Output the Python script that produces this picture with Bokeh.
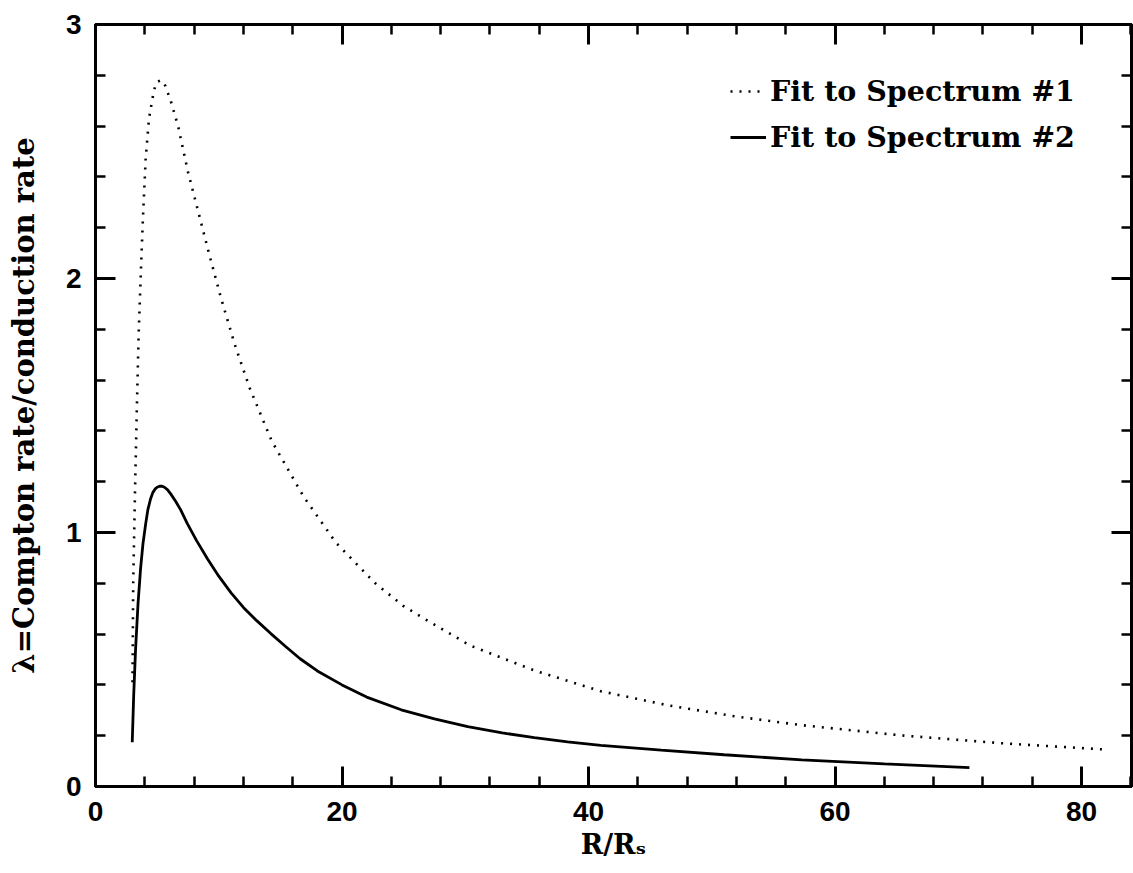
from bokeh.plotting import figure
from bokeh.models import (LinearAxis, FixedTicker, Legend, LegendItem,
                          CustomJSTickFormatter)
from bokeh.embed import file_html
from bokeh.resources import INLINE

# ---- data ----
r_fit1 = [3.0, 3.06, 3.2, 3.35, 3.5, 3.7, 3.85, 4.07, 4.34, 4.74, 4.96, 5.28,
          5.55, 6.1, 6.7, 7.5, 8.3, 9.2, 10.2, 11.3, 12.5, 14.3, 16.9, 19.5,
          22.7, 25.0, 26.7, 30.4, 35.6, 41.0, 46.5, 51.9, 57.2, 65.4, 73.6, 81.8]
lam_fit1 = [0.41, 0.80, 1.15, 1.48, 1.78, 2.05, 2.24, 2.47, 2.63, 2.74, 2.773, 2.78,
            2.773, 2.70, 2.60, 2.42, 2.27, 2.10, 1.92, 1.74, 1.57, 1.36, 1.14, 0.96,
            0.80, 0.71, 0.66, 0.555, 0.457, 0.375, 0.319, 0.276, 0.242, 0.201, 0.170, 0.146]

r_fit2 = [2.98, 3.1, 3.25, 3.45, 3.66, 3.85, 4.07, 4.25, 4.47, 4.65, 4.85, 5.0,
          5.2, 5.4, 5.6, 5.85, 6.1, 6.5, 6.9, 7.45, 8.2, 9.08, 10.0, 11.0, 12.0,
          13.1, 14.2, 15.4, 16.6, 18.0, 20.0, 22.0, 24.8, 27.5, 30.2, 33.0, 35.6,
          38.3, 41.0, 45.9, 51.0, 57.3, 64.0, 70.9]
lam_fit2 = [0.174, 0.36, 0.54, 0.72, 0.86, 0.955, 1.034, 1.09, 1.133, 1.157, 1.172, 1.178,
            1.182, 1.182, 1.178, 1.168, 1.152, 1.123, 1.09, 1.035, 0.968, 0.897, 0.828,
            0.762, 0.705, 0.652, 0.603, 0.552, 0.503, 0.455, 0.40, 0.352, 0.302, 0.266,
            0.236, 0.211, 0.192, 0.176, 0.162, 0.143, 0.125, 0.105, 0.089, 0.074]

x_ticks = [0, 20, 40, 60, 80]
x_minor = [4, 8, 12, 16, 24, 28, 32, 36, 44, 48, 52, 56, 64, 68, 72, 76, 84]
y_ticks = [0, 1, 2, 3]
y_minor = [0.2, 0.4, 0.6, 0.8, 1.2, 1.4, 1.6, 1.8, 2.2, 2.4, 2.6, 2.8]

label1 = "Fit to Spectrum #1"
label2 = "Fit to Spectrum #2"
x_title = "R/R\u209b"
y_title = "\u03bb=Compton rate/conduction rate"

SERIF = "DejaVu Serif"
SANS = "Liberation Sans"

p = figure(width=1133, height=870, x_range=(0, 84.05), y_range=(0, 3),
           output_backend="svg", toolbar_location=None,
           min_border_left=95, min_border_top=24, min_border_bottom=84,
           min_border_right=2)
p.xgrid.visible = False
p.ygrid.visible = False
p.outline_line_color = "black"
p.outline_line_width = 3
p.background_fill_color = "white"
p.border_fill_color = "white"

l1 = p.line(r_fit1, lam_fit1, line_color="black", line_width=2.6,
            line_dash="2 7", line_cap="butt")
l2 = p.line(r_fit2, lam_fit2, line_color="black", line_width=2.8)

xt = FixedTicker(ticks=x_ticks, minor_ticks=x_minor)
yt = FixedTicker(ticks=y_ticks, minor_ticks=y_minor)


def style(ax):
    ax.axis_line_width = 3
    ax.axis_line_color = "black"
    ax.major_tick_in = 20
    ax.major_tick_out = 0
    ax.minor_tick_in = 10
    ax.minor_tick_out = 0
    ax.major_tick_line_width = 3
    ax.minor_tick_line_width = 2.5
    ax.major_tick_line_color = "black"
    ax.minor_tick_line_color = "black"


xa = p.xaxis[0]
xa.ticker = xt
style(xa)
xa.major_label_text_font = SANS
xa.major_label_text_font_style = "bold"
xa.major_label_text_font_size = "28px"
xa.major_label_text_color = "black"
xa.major_label_standoff = 15
xa.axis_label = x_title
xa.axis_label_text_font = SERIF
xa.axis_label_text_font_style = "bold"
xa.axis_label_text_font_size = "27px"
xa.axis_label_text_color = "black"
xa.axis_label_standoff = 5

ya = p.yaxis[0]
ya.ticker = yt
style(ya)
ya.major_label_text_font = SANS
ya.major_label_text_font_style = "bold"
ya.major_label_text_font_size = "28px"
ya.major_label_text_color = "black"
ya.major_label_standoff = 14
ya.axis_label = y_title
ya.axis_label_text_font = SERIF
ya.axis_label_text_font_style = "bold"
ya.axis_label_text_font_size = "29px"
ya.axis_label_text_color = "black"
ya.axis_label_standoff = 22

empty = CustomJSTickFormatter(code="return ''")
top = LinearAxis(ticker=xt, formatter=empty, major_label_standoff=0,
                 major_label_text_font_size="0px")
style(top)
right = LinearAxis(ticker=yt, formatter=empty, major_label_standoff=0,
                   major_label_text_font_size="0px")
style(right)
p.add_layout(top, "above")
p.add_layout(right, "right")

legend = Legend(items=[LegendItem(label=label1, renderers=[l1]),
                       LegendItem(label=label2, renderers=[l2])],
                location=(635, 629), orientation="vertical",
                padding=0, margin=0, spacing=6,
                glyph_width=36, glyph_height=40, label_height=40,
                label_standoff=4,
                label_text_font=SERIF, label_text_font_style="bold",
                label_text_font_size="28.5px", label_text_color="black",
                border_line_alpha=0, background_fill_alpha=0)
p.add_layout(legend, "center")

open("out.html", "w").write(file_html(p, INLINE))
